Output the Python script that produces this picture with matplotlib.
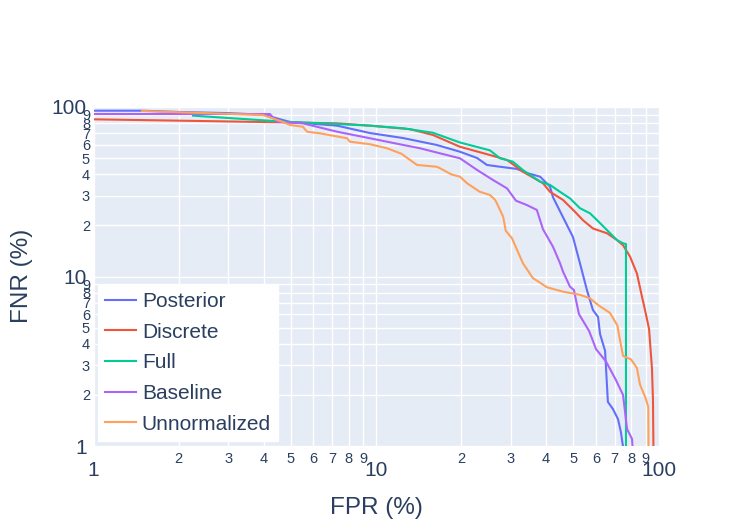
import matplotlib
matplotlib.use("Agg")
import matplotlib.pyplot as plt
from matplotlib.ticker import FixedLocator, FuncFormatter
import math

plt.rcParams['font.family'] = ['Liberation Sans', 'DejaVu Sans']

# ---- data (FPR %, FNR %) ----
posterior_fpr = [1, 1.49, 2.0, 3.0, 4.0, 4.96, 7.28, 9.52, 12.46, 16.4, 19.8, 22.8, 24.7, 27.5,
                 31.6, 34.2, 38.1, 41.3, 42.3, 45.9, 49.8, 52.7, 55.8, 58.6, 61.1, 62.1, 64.7,
                 65.2, 66.2, 69.0, 71.9, 73.6, 75.5]
posterior_fnr = [95.1, 95.1, 93.5, 92.0, 90.0, 81.6, 77.6, 70.2, 65.6, 59.7, 54.5, 50.0, 45.5, 44.4,
                 43.1, 40.8, 38.8, 33.9, 29.4, 22.4, 17.1, 12.0, 8.32, 6.34, 5.77, 4.58, 3.64,
                 2.88, 1.82, 1.65, 1.44, 1.21, 0.9]

discrete_fpr = [1, 4.69, 7.28, 9.52, 13.2, 15.9, 19.8, 25.3, 29.1, 33.1, 39.0, 41.3, 45.9, 50.5,
                54.0, 58.6, 65.7, 71.3, 74.9, 79.3, 83.9, 87.4, 89.6, 92.6, 94.8, 95.6, 96.0]
discrete_fnr = [84.6, 81.2, 80.1, 77.6, 74.0, 68.4, 58.3, 52.1, 48.7, 41.5, 35.5, 31.6, 28.3, 24.2,
                21.5, 19.2, 18.0, 16.4, 15.3, 13.1, 10.4, 7.6, 6.34, 4.9, 2.88, 1.87, 0.9]

full_fpr = [2.25, 4.69, 7.28, 9.52, 12.46, 15.9, 19.8, 25.3, 27.5, 30.5, 33.1, 38.1, 41.3, 44.8,
            48.6, 52.7, 57.2, 60.6, 65.7, 71.3, 74.9, 76.7, 76.7]
full_fnr = [88.9, 82.0, 79.4, 77.6, 74.9, 70.5, 61.8, 55.5, 49.8, 47.6, 42.5, 36.3, 34.7, 31.6,
            28.9, 25.3, 23.6, 21.5, 18.8, 16.4, 15.7, 15.55, 0.9]

baseline_fpr = [1, 4.21, 4.46, 5.51, 7.28, 9.52, 12.3, 14.31, 16.85, 19.83, 22.8, 25.95, 29.1,
                31.3, 34.2, 37.1, 39.0, 42.3, 44.8, 45.9, 48.6, 50.2, 51.0, 52.3, 56.8, 60.1,
                65.2, 70.7, 74.9, 77.4, 80.6, 81.2]
baseline_fnr = [90.9, 90.9, 81.9, 80.1, 71.5, 65.4, 60.0, 57.1, 53.3, 49.8, 42.5, 37.1, 33.1,
                28.0, 26.4, 24.7, 19.0, 15.0, 12.0, 10.7, 8.71, 8.32, 7.3, 6.0, 4.77, 3.73,
                3.15, 2.45, 2.0, 1.26, 1.10, 0.9]

unnorm_fpr = [1.485, 3.98, 4.69, 4.96, 5.51, 5.70, 6.34, 7.90, 8.09, 9.52, 10.94, 12.3, 13.2,
              13.97, 16.44, 16.85, 18.5, 19.83, 21.0, 23.3, 25.3, 26.4, 26.8, 28.2, 28.8, 30.3,
              31.6, 33.1, 35.9, 40.3, 45.9, 52.7, 57.2, 61.1, 67.3, 71.5, 73.1, 74.9, 80.0,
              83.9, 86.0, 90.0, 92.0, 92.2]
unnorm_fnr = [94.7, 89.7, 81.6, 78.3, 76.5, 71.5, 69.9, 65.4, 62.4, 60.3, 57.1, 53.0, 48.7,
              45.5, 44.4, 43.5, 40.0, 38.8, 35.5, 31.6, 30.3, 28.3, 27.0, 22.5, 18.6, 16.8,
              14.3, 12.0, 9.8, 8.64, 8.14, 7.8, 7.44, 6.79, 6.1, 5.15, 4.2, 3.4, 3.24,
              2.88, 2.3, 1.92, 1.70, 0.9]

series_names = ["Posterior", "Discrete", "Full", "Baseline", "Unnormalized"]
series_colors = ["#636EFA", "#EF553B", "#00CC96", "#AB63FA", "#FFA15A"]

major_ticks = [1, 10, 100]
minor_ticks = [d * 10 ** k for k in (0, 1) for d in range(2, 10)]

text_color = "#2a3f5f"

fig = plt.figure(figsize=(7.37, 5.26), dpi=100)
ax = fig.add_axes([93.5 / 737, 80 / 526, 565 / 737, 339 / 526])
ax.set_facecolor("#E5ECF6")

data = [(posterior_fpr, posterior_fnr), (discrete_fpr, discrete_fnr), (full_fpr, full_fnr),
        (baseline_fpr, baseline_fnr), (unnorm_fpr, unnorm_fnr)]
for (xs, ys), name, col in zip(data, series_names, series_colors):
    ax.plot(xs, ys, color=col, lw=1.5, label=name, solid_joinstyle="round")

ax.set_xscale("log")
ax.set_yscale("log")
ax.set_xlim(1, 100)
ax.set_ylim(1, 100)

for axis in (ax.xaxis, ax.yaxis):
    axis.set_major_locator(FixedLocator(major_ticks))
    axis.set_minor_locator(FixedLocator(minor_ticks))
    axis.set_major_formatter(FuncFormatter(lambda v, p: "%g" % v))
    axis.set_minor_formatter(FuncFormatter(
        lambda v, p: str(int(round(v / 10 ** math.floor(math.log10(v) + 1e-9))))))

ax.grid(True, which="both", color="white", lw=1.0)
ax.set_axisbelow(True)
for s in ax.spines.values():
    s.set_visible(False)

ax.tick_params(which="both", length=0, colors=text_color)
ax.tick_params(axis="x", which="major", labelsize=15, pad=11)
ax.tick_params(axis="x", which="minor", labelsize=10.5, pad=4)
ax.tick_params(axis="y", which="major", labelsize=15, pad=5)
ax.tick_params(axis="y", which="minor", labelsize=10.5, pad=2.5)

fig.text(376 / 737, 1 - 508 / 526, "FPR (%)", ha="center", va="center",
         fontsize=17.5, color=text_color)
fig.text(22 / 737, 1 - 276 / 526, "FNR (%)", ha="center", va="center",
         fontsize=17.5, color=text_color, rotation=90)

leg = ax.legend(loc="lower left", bbox_to_anchor=(0.008, 0.015), borderaxespad=0,
                frameon=True, fancybox=False, framealpha=1, edgecolor="white",
                facecolor="white", fontsize=15, handlelength=1.45, handletextpad=0.3,
                labelspacing=0.56, borderpad=0.35)
for t in leg.get_texts():
    t.set_color(text_color)
for h in leg.get_lines():
    h.set_linewidth(1.5)

fig.savefig("out.png", dpi=100, facecolor="white")
